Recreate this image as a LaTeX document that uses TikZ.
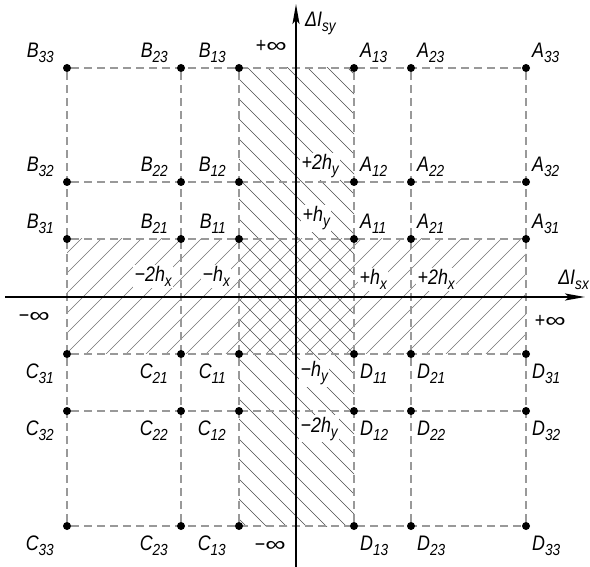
\documentclass[tikz,border=0pt]{standalone}
\usepackage{fontspec}
\newfontfamily\gost{Liberation Sans}[FakeStretch=0.85]
\usetikzlibrary{arrows.meta,backgrounds}
\newcommand\sbx[1]{\raisebox{-5pt}{\fontsize{16}{16}\selectfont #1}}
\newcommand\infy{\scalebox{1.6}[1]{∞}}
\begin{document}
\begin{tikzpicture}[x=1pt,y=-1pt,
  font=\gost\itshape\fontsize{21}{24}\selectfont,
  dot/.style={circle,fill=black,inner sep=0pt,minimum size=8pt},
  gridl/.style={draw=black!40,line width=1.3pt,dash pattern=on 8pt off 5pt},
  vh/.style={draw=black!70,line width=0.7pt},
  hh/.style={draw=black!55,line width=0.7pt},
  axis/.style={draw=black,line width=2pt,-{Stealth[length=20pt,width=7pt,inset=4pt]}},
  tl/.style={inner sep=0pt},
  hl/.style={fill=white,inner sep=1.5pt}]
\useasboundingbox (0,0) rectangle (590,567);
% grid points and their labels
\foreach \i/\xa/\xb in {1/354/239, 2/411/181, 3/526/67} {
  \foreach \j/\ya/\yb in {1/239/354, 2/182/411, 3/68/526} {
    \node[dot] (A\i\j) at (\xa,\ya) {};
    \node[dot] (B\i\j) at (\xb,\ya) {};
    \node[dot] (C\i\j) at (\xb,\yb) {};
    \node[dot] (D\i\j) at (\xa,\yb) {};
    \node[tl,anchor=base west] (lA\i\j) at (\xa+6,\ya-10) {A\sbx{\i\j}};
    \node[tl,anchor=base east] (lB\i\j) at (\xb-13,\ya-10) {B\sbx{\i\j}};
    \node[tl,anchor=north east] (lC\i\j) at (\xb-13,\yb+10) {C\sbx{\i\j}};
    \node[tl,anchor=north west] (lD\i\j) at (\xa+6,\yb+10) {D\sbx{\i\j}};
  }
}
\begin{pgfonlayer}{background}
  % vertical strip hatching
  \begin{scope}
    \clip (B13.center) rectangle (D13.center);
    \foreach \c in {-300,-280,...,300} \draw[vh] (\c,0) -- ++(600,600);
  \end{scope}
  % horizontal strip hatching
  \begin{scope}
    \clip (B31.center) rectangle (D31.center);
    \foreach \c in {300,320,...,900} \draw[hh] (\c,0) -- ++(-600,600);
  \end{scope}
  % dashed grid
  \foreach \j in {1,2,3} {
    \draw[gridl] (B3\j) -- (A3\j);
    \draw[gridl] (C3\j) -- (D3\j);
  }
  \foreach \i in {1,2,3} {
    \draw[gridl] (B\i3) -- (C\i3);
    \draw[gridl] (A\i3) -- (D\i3);
  }
\end{pgfonlayer}
% step labels
\node[hl,anchor=base west] (p2hy) at (300,170) {+2h\sbx{y}};
\node[hl,anchor=base west] (p1hy) at (301,222) {+h\sbx{y}};
\node[hl,anchor=base west] (m1hy) at (299,377) {−h\sbx{y}};
\node[hl,anchor=base west] (m2hy) at (299,432) {−2h\sbx{y}};
\node[hl,anchor=base west] (m2hx) at (133,282) {−2h\sbx{x}};
\node[hl,anchor=base west] (m1hx) at (201,282) {−h\sbx{x}};
\node[hl,anchor=base west] (p1hx) at (358,285) {+h\sbx{x}};
\node[hl,anchor=base west] (p2hx) at (416,285) {+2h\sbx{x}};
% infinities
\node[tl] (tinf) at (271,46) {+\infy};
\node[tl] (binf) at (270,546) {−\infy};
\node[tl] (linf) at (34,317) {−\infy};
\node[tl] (rinf) at (550,321) {+\infy};
% axes
\coordinate (xs) at (5,297);
\coordinate (xe) at (585,297);
\coordinate (ys) at (296,567);
\coordinate (ye) at (296,4);
\draw[axis] (xs) -- (xe);
\draw[axis] (ys) -- (ye);
\node[tl,anchor=base west] (ylab) at (305,27) {ΔI\sbx{sy}};
\node[tl,anchor=base east] (xlab) at (589,285) {ΔI\sbx{sx}};
\end{tikzpicture}
\end{document}
